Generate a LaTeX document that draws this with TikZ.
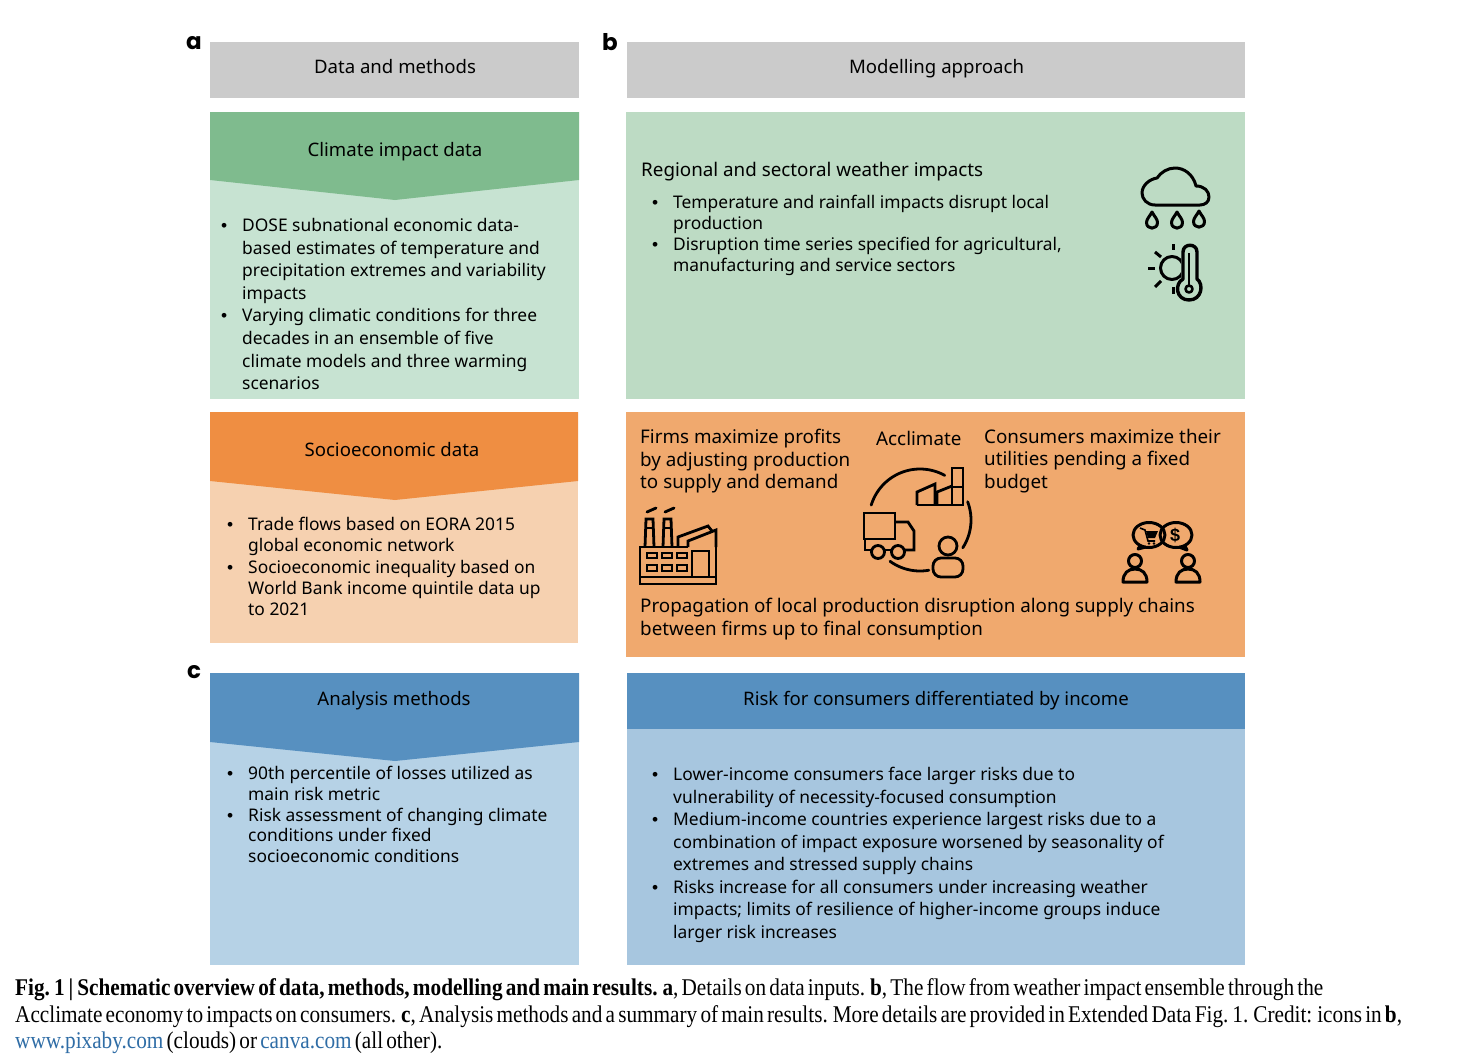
\documentclass[tikz,border=0pt]{standalone}
\usepackage{fontspec}
\setmainfont{Noto Sans}
\newfontfamily\capfont[FakeStretch=0.885,WordSpace=0.6]{Liberation Serif}
\newfontfamily\panelfont{Poppins}
\newfontfamily\arialfont{Liberation Sans}
\definecolor{hdrgrey}{HTML}{CBCBCB}
\definecolor{greendark}{HTML}{7FBB8E}
\definecolor{greenlight}{HTML}{C7E3D2}
\definecolor{greenpanel}{HTML}{BDDBC4}
\definecolor{orangedark}{HTML}{EF8E42}
\definecolor{orangelight}{HTML}{F6D1B0}
\definecolor{orangepanel}{HTML}{F0A96E}
\definecolor{bluedark}{HTML}{5790C0}
\definecolor{bluelight}{HTML}{B6D2E6}
\definecolor{bluepanel}{HTML}{A7C6DF}
\definecolor{linkblue}{HTML}{2F6DA6}
\newcommand{\bul}{\leavevmode\llap{{\arialfont •}\hspace{15pt}}}
\tikzset{
  title/.style={inner sep=0pt,anchor=base,font=\fontsize{18.6}{22}\selectfont},
  body/.style={inner sep=0pt,anchor=north west,align=left,font=\fontsize{17.4}{#1}\selectfont},
  body/.default={22.5},
  bodylarge/.style={inner sep=0pt,anchor=north west,align=left,font=\fontsize{18.8}{22.5}\selectfont},
  panellabel/.style={inner sep=0pt,font=\panelfont\bfseries\fontsize{23}{23}\selectfont},
  caption/.style={inner sep=0pt,anchor=base west,font=\capfont\fontsize{24}{24}\selectfont},
  icon/.style={draw=black,line width=3pt,line join=round},
  iconthin/.style={draw=black,line width=2.8pt,line join=miter}
}
\begin{document}
\begin{tikzpicture}[x=1pt,y=-1pt]
\useasboundingbox (0,0) rectangle (1477,1060);
\fill[white] (0,0) rectangle (1477,1060);
% headers
\fill[hdrgrey] (210,42) rectangle (579,98);
\fill[hdrgrey] (627,42) rectangle (1245,98);
% climate
\fill[greenlight] (210,112) rectangle (579,399);
\fill[greendark] (210,112) -- (579,112) -- (579,180) -- (395,200) -- (210,180) -- cycle;
% socio
\fill[orangelight] (210,412) rectangle (578,643);
\fill[orangedark] (210,412) -- (578,412) -- (578,481) -- (395,500) -- (210,481) -- cycle;
% analysis
\fill[bluelight] (210,673) rectangle (579,965);
\fill[bluedark] (210,673) -- (579,673) -- (579,742) -- (395,761) -- (210,742) -- cycle;
% right panels
\fill[greenpanel] (626,112) rectangle (1245,399);
\fill[orangepanel] (626,412) rectangle (1245,657);
\fill[bluepanel] (627,729) rectangle (1245,965);
\fill[bluedark] (627,673) rectangle (1245,729);
% labels
\node[panellabel] (la) at (194,43) {a};
\node[panellabel] (lb) at (610,42) {b};
\node[panellabel] (lc) at (194,672) {c};
% titles
\node[title] (t1) at (395,73) {Data and methods};
\node[title] (t2) at (936.5,73) {Modelling approach};
\node[title] (t3) at (395,156) {Climate impact data};
\node[title] (t4) at (392,456) {Socioeconomic data};
\node[title] (t5) at (394,705) {Analysis methods};
\node[title] (t6) at (936,705) {Risk for consumers differentiated by income};
% left bodies
\node[body=22.6] (b1) at (242,218) {\bul DOSE subnational economic data-\\based estimates of temperature and\\precipitation extremes and variability\\impacts\\\bul Varying climatic conditions for three\\decades in an ensemble of five\\climate models and three warming\\scenarios};
\node[body=21.3] (b2) at (248,517) {\bul Trade flows based on EORA 2015\\global economic network\\\bul Socioeconomic inequality based on\\World Bank income quintile data up\\to 2021};
\node[body=20.8] (b3) at (248,766) {\bul 90th percentile of losses utilized as\\main risk metric\\\bul Risk assessment of changing climate\\conditions under fixed\\socioeconomic conditions};
% right bodies
\node[bodylarge] (r0) at (641,162) {Regional and sectoral weather impacts};
\node[body=21] (r1) at (673,195) {\bul Temperature and rainfall impacts disrupt local\\production\\\bul Disruption time series specified for agricultural,\\manufacturing and service sectors};
\node[bodylarge] (r2) at (640,429) {Firms maximize profits\\by adjusting production\\to supply and demand};
\node[bodylarge] (r3) at (876,431) {Acclimate};
\node[bodylarge] (r4) at (984,429) {Consumers maximize their\\utilities pending a fixed\\budget};
\node[bodylarge] (r5) at (640,598) {Propagation of local production disruption along supply chains\\between firms up to final consumption};
\node[body] (r6) at (673,767) {\bul Lower-income consumers face larger risks due to\\vulnerability of necessity-focused consumption\\\bul Medium-income countries experience largest risks due to a\\combination of impact exposure worsened by seasonality of\\extremes and stressed supply chains\\\bul Risks increase for all consumers under increasing weather\\impacts; limits of resilience of higher-income groups induce\\larger risk increases};
% cloud icon
\draw[icon,line cap=round] (1155,205) .. controls (1147,205) and (1142,199) .. (1142,193)
  .. controls (1142,185) and (1150,179) .. (1157,178)
  .. controls (1161,172) and (1168,168) .. (1175,168)
  .. controls (1184,168) and (1193,174) .. (1196,186)
  .. controls (1204,186) and (1209,191) .. (1209,197)
  .. controls (1209,202) and (1205,205) .. (1200,205) -- cycle;
\foreach \dx/\dy in {1152/220,1177/220,1199/219}{
  \draw[icon] (\dx,\dy-8) .. controls (\dx+2,\dy-4) and (\dx+5.5,\dy-1) .. (\dx+5.5,\dy+2.5)
    .. controls (\dx+5.5,\dy+10) and (\dx-5.5,\dy+10) .. (\dx-5.5,\dy+2.5)
    .. controls (\dx-5.5,\dy-1) and (\dx-2,\dy-4) .. (\dx,\dy-8) -- cycle;
}
% sun + thermometer
\begin{scope}
\clip (1140,240) rectangle (1181,296);
\draw[icon] (1172,268) circle[radius=11.5pt];
\end{scope}
\draw[icon] (1173,244) -- (1173,250);
\draw[icon] (1148,268) -- (1155,268);
\draw[icon] (1155,252) -- (1161,257);
\draw[icon] (1155,287) -- (1161,281);
\draw[icon] (1173,287) -- (1173,294);
\draw[icon,line width=3.4pt] (1183,279) -- (1183,252) .. controls (1183,243) and (1197,243) .. (1197,252) -- (1197,279)
  .. controls (1204,284) and (1202,300) .. (1189,300) .. controls (1176,300) and (1174,284) .. (1183,279) -- cycle;
\draw[icon,line width=2.6pt] (1189,253) -- (1189,285);
\draw[icon,line width=2.6pt] (1189,289) circle[radius=3.5pt];
% factory
\draw[iconthin] (640,547) rectangle (716,584);
\fill[orangepanel] (680,545) rectangle (714.6,549);
\draw[iconthin] (640,547) -- (688,547);
\draw[iconthin] (640,577) -- (716,577);
\draw[iconthin] (645,547) -- (646,519) -- (653,519) -- (654,547);
\draw[iconthin] (645,528) -- (654,528);
\draw[iconthin] (663,547) -- (664,519) -- (671,519) -- (672,547);
\draw[iconthin] (663,528) -- (672,528);
\draw[iconthin,line cap=round] (647,512) -- (656,508);
\draw[iconthin,line cap=round] (665,512) -- (674,508);
\draw[iconthin] (678,547) -- (678,537) -- (708,526) -- (712,531);
\draw[iconthin] (688,547) -- (688,541) -- (716,530) -- (716,547);
\draw[iconthin] (692,577) -- (692,551) -- (709,551) -- (709,577);
\foreach \wx in {647,662,677}{
  \draw[iconthin,line width=1.9pt] (\wx,553) rectangle (\wx+10,558);
  \draw[iconthin,line width=1.9pt] (\wx,565) rectangle (\wx+10,571);
}
% cycle arcs
\draw[iconthin,line cap=round] plot[domain=197:299,samples=40] ({920+51*cos(\x)},{520+51*sin(\x)});
\draw[iconthin,line cap=round] plot[domain=-21:33,samples=25] ({920+51*cos(\x)},{520+51*sin(\x)});
\draw[iconthin,line cap=round] plot[domain=80:126,samples=20] ({920+51*cos(\x)},{520+51*sin(\x)});
% small factory
\draw[iconthin] (917,505) -- (963,505) -- (963,468) -- (952,468) -- (952,505);
\draw[iconthin] (952,487) -- (963,487);
\draw[iconthin] (917,505) -- (917,492) -- (935,484) -- (935,505);
\draw[iconthin] (937,505) -- (937,492) -- (952,486);
% truck
\draw[iconthin] (864,513) rectangle (895,539);
\draw[iconthin] (895,522) -- (908,522) -- (914,531) -- (914,550) -- (905,550);
\draw[iconthin] (865,540) -- (865,550) -- (871,550);
\draw[iconthin] (885,550) -- (891,550);
\draw[iconthin] (878,552) circle[radius=6.5pt];
\draw[iconthin] (898,552) circle[radius=6.5pt];
% person
\draw[iconthin] (948,546) circle[radius=9pt];
\draw[iconthin] (933,558) [rounded corners=8pt] rectangle (963,577);
% speech bubbles
\draw[icon] (1149,535) ellipse[x radius=16pt,y radius=12.5pt];
\draw[icon] (1176,535) ellipse[x radius=16pt,y radius=12.5pt];
\draw[icon] (1140,546) -- (1138,549) -- (1146,547);
\draw[icon] (1185,546) -- (1187,550) -- (1179,547);
\draw[black,line width=1.6pt] (1140,528) -- (1145,530) -- (1148,541) -- (1155,541);
\fill[black] (1146,531) -- (1158,531) -- (1155,538) -- (1148,538) -- cycle;
\fill[black] (1149,543.5) circle[radius=1.4pt] (1154,543.5) circle[radius=1.4pt];
\node[inner sep=0pt,font=\arialfont\bfseries\fontsize{18}{18}\selectfont] (dollar) at (1175,535) {\$};
% people
\foreach \px in {1135,1188}{
  \draw[icon] (\px,561) circle[radius=6.5pt];
  \draw[icon] (\px-12,582) .. controls (\px-12,573) and (\px-7,569) .. (\px,569)
     .. controls (\px+7,569) and (\px+12,573) .. (\px+12,582) -- cycle;
}
% caption
\node[caption] (c1) at (15,995.5) {{\bfseries Fig.\,1\,|\,Schematic overview of data, methods, modelling and main results. a}, Details on data inputs. {\bfseries b}, The flow from weather impact ensemble through the};
\node[caption] (c2) at (15,1022.5) {Acclimate economy to impacts on consumers. {\bfseries c}, Analysis methods and a summary of main results. More details are provided in Extended Data Fig.\,1. Credit: icons in {\bfseries b},};
\node[caption] (c3) at (15,1048.5) {\textcolor{linkblue}{www.pixaby.com} (clouds) or \textcolor{linkblue}{canva.com} (all other).};
\end{tikzpicture}
\end{document}
